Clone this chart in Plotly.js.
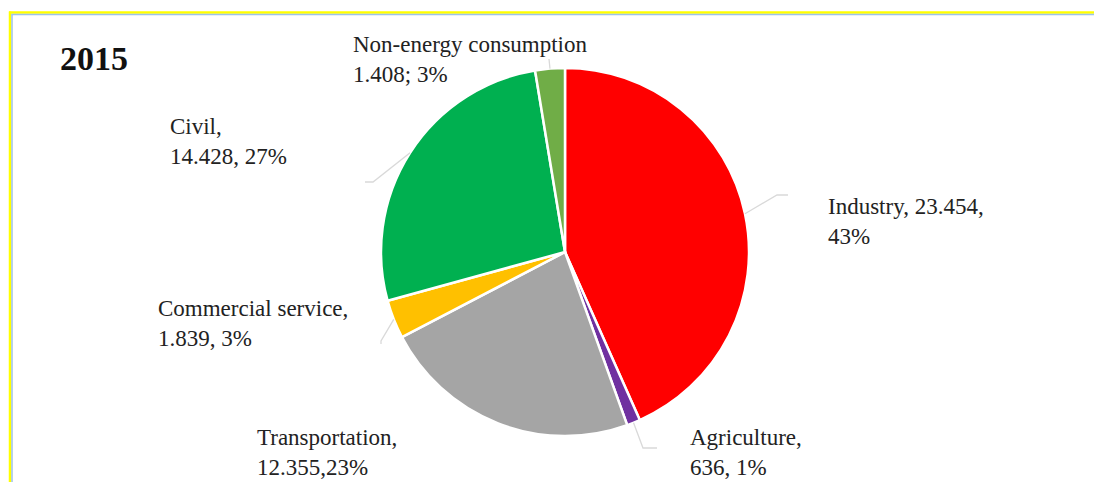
<!DOCTYPE html>
<html>
<head>
<meta charset="utf-8">
<script src="https://cdn.plot.ly/plotly-3.0.1.min.js"></script>
<style>html,body{margin:0;padding:0;background:#fff;}#chart{width:1094px;height:482px;}</style>
</head>
<body>
<div id="chart"></div>
<script>
// ---- data ----
const categories = ["Industry", "Agriculture", "Transportation", "Commercial service", "Civil", "Non-energy consumption"];
const values = [23454, 636, 12355, 1839, 14428, 1408];
const valueLabels = ["23.454", "636", "12.355", "1.839", "14.428", "1.408"];
const percentLabels = ["43%", "1%", "23%", "3%", "27%", "3%"];
const colors = ["#ff0000", "#7030a0", "#a5a5a5", "#ffc000", "#00b050", "#70ad47"];
const chartTitle = "2015";

// label texts (as printed in the original)
const labelTexts = [
  categories[0] + ", " + valueLabels[0] + ",<br>" + percentLabels[0],
  categories[1] + ",<br>" + valueLabels[1] + ", " + percentLabels[1],
  categories[2] + ",<br>" + valueLabels[2] + "," + percentLabels[2],
  categories[3] + ",<br>" + valueLabels[3] + ", " + percentLabels[3],
  categories[4] + ",<br>" + valueLabels[4] + ", " + percentLabels[4],
  categories[5] + "<br>" + valueLabels[5] + "; " + percentLabels[5]
];

// ---- layout geometry (pixels) ----
const W = 1094, H = 482;
const pie = {cx: 565, cy: 252, r: 184};
const FONT = "'Liberation Serif', 'Times New Roman', Times, 'DejaVu Serif', serif";
// label anchor positions (left edge, vertical middle) in px
const labelPos = [[826, 222], [688, 452], [255, 452], [156, 323], [168, 141], [351, 59]];
// leader-line bend/end points (px), after the slice-edge start point
const leaderPts = [
  [[777, 195], [788, 195]],
  [[643, 448], [657, 448]],
  null,
  [[381, 341], [381, 344]],
  [[373, 182], [365, 182]],
  [[549, 59]]
];

const px = x => x / W;
const py = y => 1 - y / H;

// slice mid-angles from data
const total = values.reduce((a, b) => a + b, 0);
let cum = 0;
const shapes = [];
values.forEach((v, i) => {
  const mid = (cum + v / 2) / total * 2 * Math.PI;
  cum += v;
  const pts = leaderPts[i];
  if (!pts) return;
  const sx = pie.cx + pie.r * Math.sin(mid);
  const sy = pie.cy - pie.r * Math.cos(mid);
  let path = "M" + px(sx) + "," + py(sy);
  pts.forEach(p => { path += " L" + px(p[0]) + "," + py(p[1]); });
  shapes.push({type: "path", xref: "paper", yref: "paper", path: path,
    line: {color: "#d9d9d9", width: 1.3}});
});

// frame lines
shapes.push({type: "line", xref: "paper", yref: "paper", x0: px(9), x1: 1.01, y0: py(12.5), y1: py(12.5), line: {color: "#ffff00", width: 2.5}});
shapes.push({type: "line", xref: "paper", yref: "paper", x0: px(11.5), x1: 1.01, y0: py(14.5), y1: py(14.5), line: {color: "#9dc3e6", width: 1.5}});
shapes.push({type: "line", xref: "paper", yref: "paper", x0: px(10), x1: px(10), y0: py(11.5), y1: -0.01, line: {color: "#ffff00", width: 2.5}});
shapes.push({type: "line", xref: "paper", yref: "paper", x0: px(12), x1: px(12), y0: py(14), y1: -0.01, line: {color: "#9dc3e6", width: 1.5}});

const annotations = labelTexts.map((t, i) => ({
  text: t, xref: "paper", yref: "paper",
  x: px(labelPos[i][0]), y: py(labelPos[i][1]),
  xanchor: "left", yanchor: "middle", align: "left", showarrow: false,
  font: {family: FONT, size: 23, color: "#222", weight: "normal"}
}));

const trace = {
  type: "pie",
  labels: categories,
  values: values,
  sort: false,
  direction: "clockwise",
  rotation: 0,
  textinfo: "none",
  hoverinfo: "none",
  marker: {colors: colors, line: {color: "#ffffff", width: 2.5}},
  domain: {x: [px(pie.cx - pie.r), px(pie.cx + pie.r)], y: [py(pie.cy + pie.r), py(pie.cy - pie.r)]},
  showlegend: false
};

const layout = {
  width: W, height: H,
  margin: {l: 0, r: 0, t: 0, b: 0},
  paper_bgcolor: "#ffffff",
  showlegend: false,
  font: {family: FONT, color: "#222"},
  title: {text: "<b>" + chartTitle + "</b>", x: px(60), xanchor: "left", y: py(58), yanchor: "middle",
    font: {family: FONT, size: 34, color: "#111"}},
  shapes: shapes,
  annotations: annotations
};

Plotly.newPlot("chart", [trace], layout, {displayModeBar: false, staticPlot: true});
</script>
</body>
</html>
